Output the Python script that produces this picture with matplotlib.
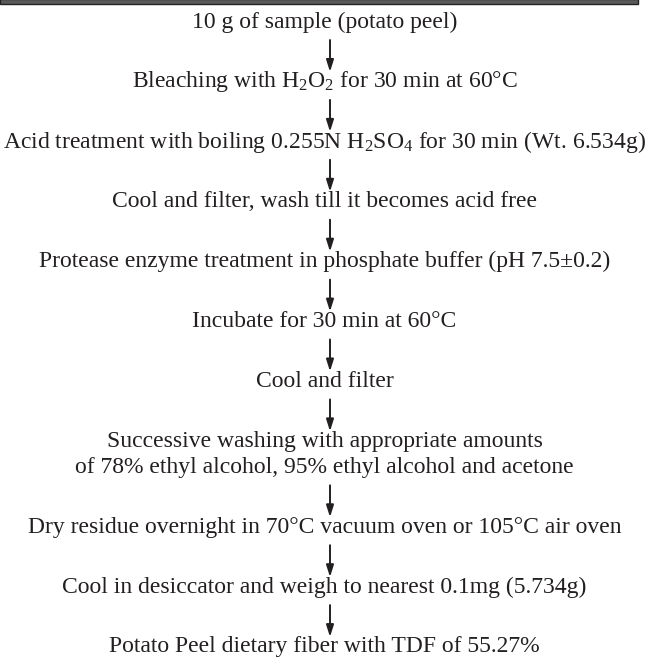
import matplotlib
matplotlib.use("Agg")
import matplotlib.pyplot as plt
from matplotlib.patches import Rectangle

plt.rcParams['font.family'] = ['Liberation Serif', 'DejaVu Serif']
plt.rcParams['mathtext.fontset'] = 'custom'
plt.rcParams['mathtext.rm'] = 'Liberation Serif'
plt.rcParams['mathtext.it'] = 'Liberation Serif:italic'

# Flow chart steps (each step may have several lines)
steps = [
    ["10 g of sample (potato peel)"],
    [r"Bleaching with H$_2$O$_2$ for 30 min at 60°C"],
    [r"Acid treatment with boiling 0.255N H$_2$SO$_4$ for 30 min (Wt. 6.534g)"],
    ["Cool and filter, wash till it becomes acid free"],
    ["Protease enzyme treatment in phosphate buffer (pH 7.5±0.2)"],
    ["Incubate for 30 min at 60°C"],
    ["Cool and filter"],
    ["Successive washing with appropriate amounts",
     "of 78% ethyl alcohol, 95% ethyl alcohol and acetone"],
    ["Dry residue overnight in 70°C vacuum oven or 105°C air oven"],
    ["Cool in desiccator and weigh to nearest 0.1mg (5.734g)"],
    ["Potato Peel dietary fiber with TDF of 55.27%"],
]

W, H = 649, 664
fig = plt.figure(figsize=(W / 100, H / 100), dpi=100)
ax = fig.add_axes([0, 0, 1, 1])
ax.set_xlim(0, W)
ax.set_ylim(H, 0)
ax.axis('off')

color = '#231f20'
fs = 17
xc = 324.5
arrow_x = 330
gap = 59.9
line_gap = 26
y = 22

ax.add_patch(Rectangle((0, -1), 638, 4.5, facecolor='#5a5a5a',
                       edgecolor='#222222', lw=1.0))

prev_bottom = None
for i, step in enumerate(steps):
    if prev_bottom is not None:
        ax.annotate('', xy=(arrow_x, y - 10), xytext=(arrow_x, prev_bottom + 18),
                    arrowprops=dict(arrowstyle='-|>,head_width=0.22,head_length=0.7',
                                    color=color, lw=1.4, shrinkA=0, shrinkB=0))
    for j, line in enumerate(step):
        ax.text(xc, y + j * line_gap, line, ha='center', va='center',
                fontsize=fs, color=color)
    prev_bottom = y + (len(step) - 1) * line_gap
    y = prev_bottom + gap

fig.savefig('out.png', dpi=100)
